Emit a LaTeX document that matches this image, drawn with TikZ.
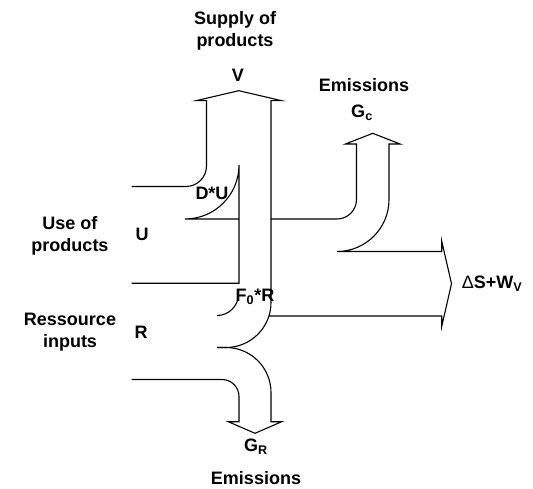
\documentclass[tikz,border=0pt]{standalone}
\usepackage{fontspec}
\setmainfont{Liberation Sans}
\begin{document}
\begin{tikzpicture}[x=1pt,y=-1pt,
  flow/.style={draw=black,line width=1.1pt,line join=miter},
  lbl/.style={font=\fontsize{18}{21.5}\selectfont\bfseries,inner sep=0pt,align=center}]
\fill[white] (0,0) rectangle (533,489);
\useasboundingbox (0,0) rectangle (533,489);
% V arrow outer boundary, lower right shaft and G_R arrow
\draw[flow] (131.7,186.5) -- (186,186.5) arc[start angle=90,end angle=0,radius=20.5]
  -- (206.5,100.7) -- (196,100.7) -- (238.8,90.7) -- (281.7,100.7) -- (271,100.7)
  -- (271,302.5) arc[start angle=0,end angle=90,radius=45] -- (217,347.5);
\draw[flow] (217,347.5) -- (226,347.5) arc[start angle=-90,end angle=0,radius=45]
  -- (271,421.7) -- (281.7,421.7) -- (255,433.3) -- (228.3,421.7) -- (239,421.7)
  -- (239,396.5) arc[start angle=0,end angle=-90,radius=17] -- (131.7,379.5);
% U bottom, inner vertical, D*U curve
\draw[flow] (131.7,283.3) -- (239,283.3) -- (239,165)
  arc[start angle=0,end angle=90,radius=54] -- (239,219);
% G_c arrow and Delta S + W_V arrow
\draw[flow] (271,219) -- (337,219) arc[start angle=90,end angle=0,radius=19.5]
  -- (356.5,144) -- (345.5,144) -- (372.75,133.3) -- (400,144) -- (389,144)
  -- (389,199.5) arc[start angle=0,end angle=90,radius=52]
  -- (441.7,251.5) -- (441.7,241) -- (451.5,283.75) -- (441.7,326.5)
  -- (441.7,316) -- (268.9,316);
% F0*R curve
\draw[flow] (238.5,294) arc[start angle=0,end angle=90,radius=21.5];
% labels
\node[lbl] (supply) at (235,31) {Supply of\\products};
\node[lbl] (v) at (238,75) {V};
\node[lbl] (emc) at (364,85) {Emissions};
\node[lbl] (gc) at (362,113) {G\textsubscript{c}};
\node[lbl] (du) at (212,193) {D*U};
\node[lbl] (u) at (142,234) {U};
\node[lbl] (use) at (70,236) {Use of\\products};
\node[lbl] (f0r) at (255,297) {F\textsubscript{0}*R};
\node[lbl] (r) at (141,332) {R};
\node[lbl] (res) at (70,332) {Ressource\\inputs};
\node[lbl] (gr) at (256,447) {G\textsubscript{R}};
\node[lbl] (emr) at (256,478) {Emissions};
\node[lbl,anchor=west] (ds) at (461.7,283.5) {{\mdseries Δ}S+W\textsubscript{V}};
\end{tikzpicture}
\end{document}
